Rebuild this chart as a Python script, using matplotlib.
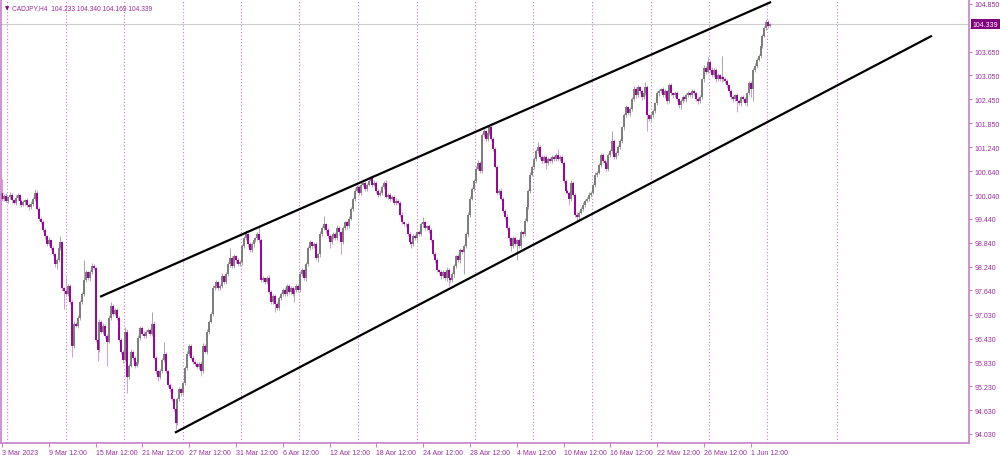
import numpy as np
import matplotlib
matplotlib.use("Agg")
import matplotlib.pyplot as plt
import matplotlib.transforms as mtransforms

# CADJPY H4 closes (one per bar)
closes = [
    99.95, 100.02, 99.90, 99.98, 100.05, 99.92, 99.85, 99.97, 100.03, 99.88,
    99.80, 99.86, 99.92, 99.78, 99.74, 99.82, 99.95, 100.10, 99.70, 99.45,
    99.35, 99.15, 99.00, 98.80, 98.90, 98.72, 98.55, 98.30, 98.40, 98.70,
    98.85, 97.70, 97.62, 97.55, 97.75, 97.35, 96.25, 96.80, 96.75, 96.95,
    97.35, 97.55, 97.90, 98.10, 97.95, 98.10, 98.25, 98.20, 96.40, 96.15,
    96.85, 96.60, 96.75, 96.50, 96.35, 96.95, 97.25, 97.05, 97.15, 96.95,
    96.40, 96.10, 95.90, 96.60, 95.45, 95.75, 96.10, 95.95, 95.75, 95.85,
    96.45, 96.70, 96.55, 96.50, 96.60, 96.65, 96.55, 96.80, 95.95, 95.60,
    95.45, 95.60, 95.90, 96.05, 95.60, 95.25, 95.15, 94.90, 94.65, 94.30,
    94.90, 95.15, 95.05, 95.30, 95.70, 96.05, 96.25, 95.95, 95.85, 95.80,
    95.72, 95.80, 95.62, 96.25, 96.10, 96.60, 96.85, 97.05, 97.70, 97.75,
    97.85, 97.70, 97.75, 98.00, 97.85, 98.05, 98.30, 98.45, 98.25, 98.50,
    98.40, 98.30, 98.35, 98.75, 98.95, 99.05, 98.80, 98.65, 98.80, 98.90,
    98.95, 99.05, 98.90, 97.90, 97.95, 97.85, 97.95, 97.60, 97.35, 97.50,
    97.30, 97.20, 97.45, 97.55, 97.65, 97.55, 97.75, 97.60, 97.70, 97.55,
    97.65, 97.75, 97.65, 98.05, 98.15, 97.95, 98.30, 98.70, 98.85, 98.75,
    98.80, 98.45, 98.55, 99.05, 99.20, 99.30, 99.15, 99.00, 98.85, 99.00,
    99.05, 98.95, 99.20, 99.10, 98.85, 99.20, 99.35, 99.25, 99.45, 99.70,
    99.95, 100.15, 100.25, 100.10, 100.30, 100.35, 100.20, 100.30, 100.40, 100.50,
    100.30, 100.35, 100.15, 100.05, 100.10, 100.25, 100.35, 100.00, 100.05, 99.95,
    100.00, 99.85, 99.90, 99.85, 99.55, 99.35, 99.30, 99.30, 99.05, 98.85,
    98.80, 99.00, 98.95, 99.10, 99.05, 99.30, 99.35, 99.20, 99.25, 99.15,
    98.90, 98.55, 98.40, 98.15, 98.10, 98.00, 98.10, 97.95, 98.15, 97.95,
    97.90, 98.05, 98.25, 98.50, 98.40, 98.65, 98.60, 98.75, 99.05, 99.55,
    99.95, 100.20, 100.40, 100.70, 100.85, 100.65, 101.55, 101.65, 101.45, 101.60,
    101.75, 101.45, 101.20, 100.75, 100.10, 100.15, 99.95, 99.65, 99.50, 99.20,
    98.95, 98.75, 98.95, 98.80, 98.90, 98.75, 99.10, 99.05, 99.40, 99.75,
    100.15, 100.55, 100.75, 100.95, 101.15, 101.25, 101.00, 100.90, 101.00, 100.85,
    100.95, 100.90, 101.00, 100.95, 101.05, 100.95, 101.00, 100.85, 100.40, 100.15,
    100.10, 99.95, 100.35, 100.05, 99.55, 99.50, 99.60, 99.70, 99.80, 99.90,
    99.95, 100.05, 100.10, 100.30, 100.55, 100.60, 100.80, 101.05, 100.90, 100.85,
    100.70, 101.05, 101.15, 101.40, 101.00, 101.10, 101.25, 101.40, 101.75, 102.05,
    102.25, 102.10, 102.20, 102.45, 102.70, 102.55, 102.75, 102.65, 102.50, 102.60,
    102.75, 102.05, 101.95, 102.05, 102.15, 102.35, 102.60, 102.65, 102.70, 102.55,
    102.65, 102.40, 102.80, 102.60, 102.55, 102.60, 102.45, 102.30, 102.40, 102.50,
    102.45, 102.55, 102.60, 102.55, 102.65, 102.60, 102.45, 102.40, 102.50, 102.95,
    103.25, 103.15, 103.40, 103.20, 103.05, 103.20, 102.95, 103.05, 102.95, 103.00,
    102.95, 102.90, 102.80, 102.65, 102.50, 102.45, 102.55, 102.40, 102.35, 102.50,
    102.45, 102.35, 102.60, 102.85, 102.70, 103.20, 103.30, 103.45, 103.55, 103.80,
    104.05, 104.25, 104.40, 104.30, 104.339,
]
first_open = 100.10

# wick lengths in pips (0.01)
upper_wick = [
    35, 5, 6, 4, 8, 5, 3, 7, 6, 4, 5, 6, 3, 4, 5, 7, 4, 10, 6, 5,
    4, 6, 5, 3, 8, 4, 5, 3, 6, 5, 15, 4, 3, 36, 6, 4, 5, 8, 4, 6,
    5, 4, 50, 6, 4, 5, 7, 5, 3, 4, 8, 5, 6, 4, 5, 6, 10, 4, 5, 6,
    4, 5, 3, 12, 6, 5, 7, 4, 5, 6, 8, 5, 4, 6, 5, 4, 5, 30, 6, 4,
    5, 6, 4, 30, 5, 4, 6, 5, 4, 3, 7, 5, 4, 6, 5, 6, 4, 5, 6, 4,
    5, 4, 6, 7, 5, 6, 4, 5, 8, 5, 6, 4, 5, 7, 4, 5, 6, 25, 5, 6,
    4, 5, 6, 7, 5, 10, 4, 5, 6, 5, 4, 6, 20, 5, 6, 4, 5, 7, 4, 5,
    6, 5, 4, 6, 5, 7, 4, 6, 5, 4, 5, 6, 4, 7, 5, 4, 6, 5, 7, 4,
    5, 6, 4, 8, 5, 22, 4, 5, 6, 4, 5, 6, 8, 5, 4, 6, 5, 4, 6, 5,
    4, 6, 5, 4, 7, 5, 6, 4, 5, 3, 5, 6, 4, 5, 6, 5, 4, 6, 5, 4,
    5, 4, 6, 5, 4, 6, 5, 4, 5, 6, 4, 5, 6, 4, 5, 6, 14, 5, 4, 6,
    5, 4, 6, 5, 4, 6, 5, 4, 7, 5, 4, 6, 5, 4, 6, 5, 4, 6, 5, 7,
    6, 5, 4, 6, 8, 5, 6, 5, 4, 6, 6, 5, 4, 6, 5, 4, 6, 5, 4, 6,
    5, 4, 6, 5, 4, 6, 5, 4, 6, 5, 4, 6, 5, 4, 6, 13, 5, 4, 6, 5,
    4, 6, 5, 4, 6, 15, 5, 4, 6, 5, 4, 5, 6, 5, 4, 6, 5, 4, 6, 5,
    4, 6, 5, 4, 6, 5, 4, 6, 5, 4, 6, 5, 4, 25, 5, 4, 6, 5, 4, 6,
    5, 4, 6, 5, 8, 6, 5, 4, 6, 5, 14, 5, 4, 6, 5, 4, 6, 5, 4, 6,
    5, 4, 6, 5, 4, 6, 5, 4, 6, 5, 4, 6, 5, 4, 6, 5, 4, 6, 5, 4,
    6, 5, 12, 4, 6, 5, 4, 6, 5, 55, 4, 6, 5, 4, 6, 5, 4, 6, 5, 4,
    6, 5, 4, 6, 5, 4, 6, 5, 4, 6, 5, 4, 7, 5, 3,
]
lower_wick = [
    6, 5, 4, 6, 5, 7, 4, 5, 6, 8, 5, 4, 6, 5, 8, 4, 6, 5, 4, 6,
    5, 4, 6, 5, 4, 6, 5, 7, 12, 5, 4, 6, 45, 5, 4, 6, 28, 5, 4, 6,
    5, 4, 6, 5, 4, 6, 5, 4, 6, 28, 5, 4, 6, 5, 60, 4, 5, 6, 4, 5,
    6, 5, 8, 4, 40, 5, 4, 6, 5, 4, 6, 5, 4, 6, 5, 4, 6, 5, 4, 6,
    8, 5, 4, 6, 5, 4, 6, 5, 4, 14, 5, 4, 6, 5, 4, 6, 5, 4, 6, 5,
    4, 6, 13, 5, 4, 6, 5, 4, 6, 5, 4, 6, 5, 4, 6, 5, 4, 6, 5, 4,
    6, 5, 4, 6, 5, 4, 6, 5, 4, 6, 5, 4, 6, 5, 4, 6, 5, 4, 6, 5,
    20, 5, 4, 6, 5, 4, 6, 5, 4, 6, 20, 5, 4, 6, 5, 4, 6, 5, 4, 6,
    5, 4, 10, 6, 5, 4, 6, 5, 15, 4, 6, 5, 4, 6, 30, 5, 4, 6, 5, 4,
    6, 5, 4, 6, 5, 4, 6, 5, 4, 6, 5, 4, 6, 5, 4, 6, 5, 4, 6, 5,
    4, 6, 5, 4, 6, 5, 4, 6, 5, 4, 10, 5, 4, 6, 5, 4, 6, 5, 4, 6,
    5, 4, 6, 5, 4, 6, 5, 4, 6, 20, 5, 4, 6, 5, 4, 6, 5, 54, 4, 6,
    5, 4, 6, 5, 4, 6, 5, 4, 6, 5, 4, 6, 5, 4, 6, 5, 4, 6, 5, 4,
    6, 12, 5, 4, 40, 5, 4, 6, 5, 4, 6, 5, 4, 6, 5, 4, 6, 5, 4, 15,
    5, 4, 6, 5, 4, 6, 5, 4, 6, 5, 4, 15, 5, 4, 6, 14, 5, 4, 6, 5,
    4, 6, 5, 4, 6, 5, 4, 6, 5, 4, 6, 5, 4, 6, 5, 4, 6, 5, 4, 6,
    5, 4, 6, 5, 4, 6, 5, 4, 6, 5, 4, 40, 5, 4, 6, 5, 4, 6, 5, 4,
    6, 8, 5, 4, 6, 5, 4, 6, 10, 5, 4, 6, 5, 4, 6, 5, 4, 6, 5, 4,
    6, 5, 4, 6, 5, 4, 6, 5, 4, 6, 5, 4, 6, 5, 4, 6, 5, 28, 4, 6,
    5, 4, 6, 5, 20, 30, 6, 5, 4, 6, 5, 4, 6, 5, 4,
]

# time axis labels (every 24 bars)
xtick_bars = [0, 24, 48, 72, 96, 120, 144, 168, 192, 216, 240, 264, 288, 312, 336, 360, 384]
xtick_labels = ["3 Mar 2023", "9 Mar 12:00", "15 Mar 12:00", "21 Mar 12:00", "27 Mar 12:00",
                "31 Mar 12:00", "6 Apr 12:00", "12 Apr 12:00", "18 Apr 12:00", "24 Apr 12:00",
                "28 Apr 12:00", "4 May 12:00", "10 May 12:00", "16 May 12:00", "22 May 12:00",
                "26 May 12:00", "1 Jun 12:00"]
# weekly separators (bar positions)
week_lines = [2.7, 32.8, 62.7, 92.7, 122.6, 152.5, 182.7, 212.7, 242.6, 272.5,
              302.4, 332.7, 362.6, 392.5, 428.4]
ytick_vals = [94.030, 94.630, 95.230, 95.830, 96.430, 97.030, 97.640, 98.240, 98.840,
              99.440, 100.040, 100.640, 101.240, 101.850, 102.450, 103.050, 103.650,
              104.250, 104.850]

# channel trend lines (bar, price)
upper_line_x = [50.3, 394.4]
upper_line_y = [97.48, 104.90]
lower_line_x = [88.7, 476.9]
lower_line_y = [94.06, 104.05]

last_price = 104.339
header = "CADJPY,H4  104.233 104.340 104.169 104.339"

assert len(closes) == len(upper_wick) == len(lower_wick), (len(closes), len(upper_wick), len(lower_wick))

c = np.array(closes)
o = np.concatenate([[first_open], c[:-1]])
hi = np.maximum(o, c) + np.array(upper_wick) / 100
lo = np.minimum(o, c) - np.array(lower_wick) / 100
x = np.arange(len(c))
up = c >= o

axis_col = "#c77fc7"
text_col = "#9a2f9a"
bull, bear = "#7c7c7c", "#990099"
lab_font = "Liberation Sans"

fig = plt.figure(figsize=(10, 4.56), dpi=100)
ax = fig.add_axes([0.001, 0.0263, 0.968, 0.9715])

# weekly dotted separators and current price line
ax.vlines(week_lines, 93.0, 106.0, colors="#cc77cc", linestyles=(0, (1, 2)), lw=0.8, zorder=0)
ax.axhline(last_price, color="#cfcfcf", lw=0.8, zorder=0)

# candles
ax.vlines(x[up], lo[up], hi[up], colors="#a8a8a8", lw=0.7, zorder=1)
ax.vlines(x[~up], lo[~up], hi[~up], colors="#d79ad7", lw=0.7, zorder=1)
body_lo = np.minimum(o, c)
body_hi = np.maximum(body_lo + 0.02, np.maximum(o, c))
ax.vlines(x[up], body_lo[up], body_hi[up], colors=bull, lw=1.4, zorder=2)
ax.vlines(x[~up], body_lo[~up], body_hi[~up], colors=bear, lw=1.4, zorder=2)

# trend channel
ax.plot(upper_line_x, upper_line_y, color="black", lw=1.6, zorder=3, solid_capstyle="butt")
ax.plot(lower_line_x, lower_line_y, color="black", lw=1.6, zorder=3, solid_capstyle="butt")

ax.set_xlim(-0.5, 495.9)
ax.set_ylim(93.80, 104.95)

for side in ["left", "bottom", "right"]:
    ax.spines[side].set_color(axis_col)
    ax.spines[side].set_linewidth(1.2)
ax.spines["top"].set_visible(False)

ax.yaxis.tick_right()
ax.set_yticks(ytick_vals)
# the 104.250 level sits under the current-price marker
ax.set_yticklabels(["" if v == 104.250 else f"{v:.3f}" for v in ytick_vals])
ax.tick_params(axis="y", colors=axis_col, labelcolor=text_col, labelsize=5,
               length=2.5, width=0.8, pad=1.5, direction="out")
ax.set_xticks(xtick_bars)
ax.set_xticklabels(xtick_labels, ha="left")
ax.tick_params(axis="x", colors=axis_col, labelcolor=text_col, labelsize=5,
               length=3, width=0.8, pad=1, direction="out")
for lab in ax.get_xticklabels() + ax.get_yticklabels():
    lab.set_fontfamily(lab_font)

# current price marker on the scale
trans = mtransforms.blended_transform_factory(ax.transAxes, ax.transData)
ax.text(1.004, last_price, f"{last_price:.3f}", transform=trans, ha="left", va="center",
        fontsize=5, color="white", family=lab_font, clip_on=False,
        bbox=dict(boxstyle="square,pad=0.2", facecolor="#800080", edgecolor="none"))

# symbol header
ax.text(0.004, 0.988, "\u25bc", transform=ax.transAxes, ha="left", va="top",
        fontsize=4, color="#800080")
ax.text(0.011, 0.992, header, transform=ax.transAxes, ha="left", va="top",
        fontsize=4.8, color=text_col, family=lab_font)

fig.savefig("out.png", dpi=100)
